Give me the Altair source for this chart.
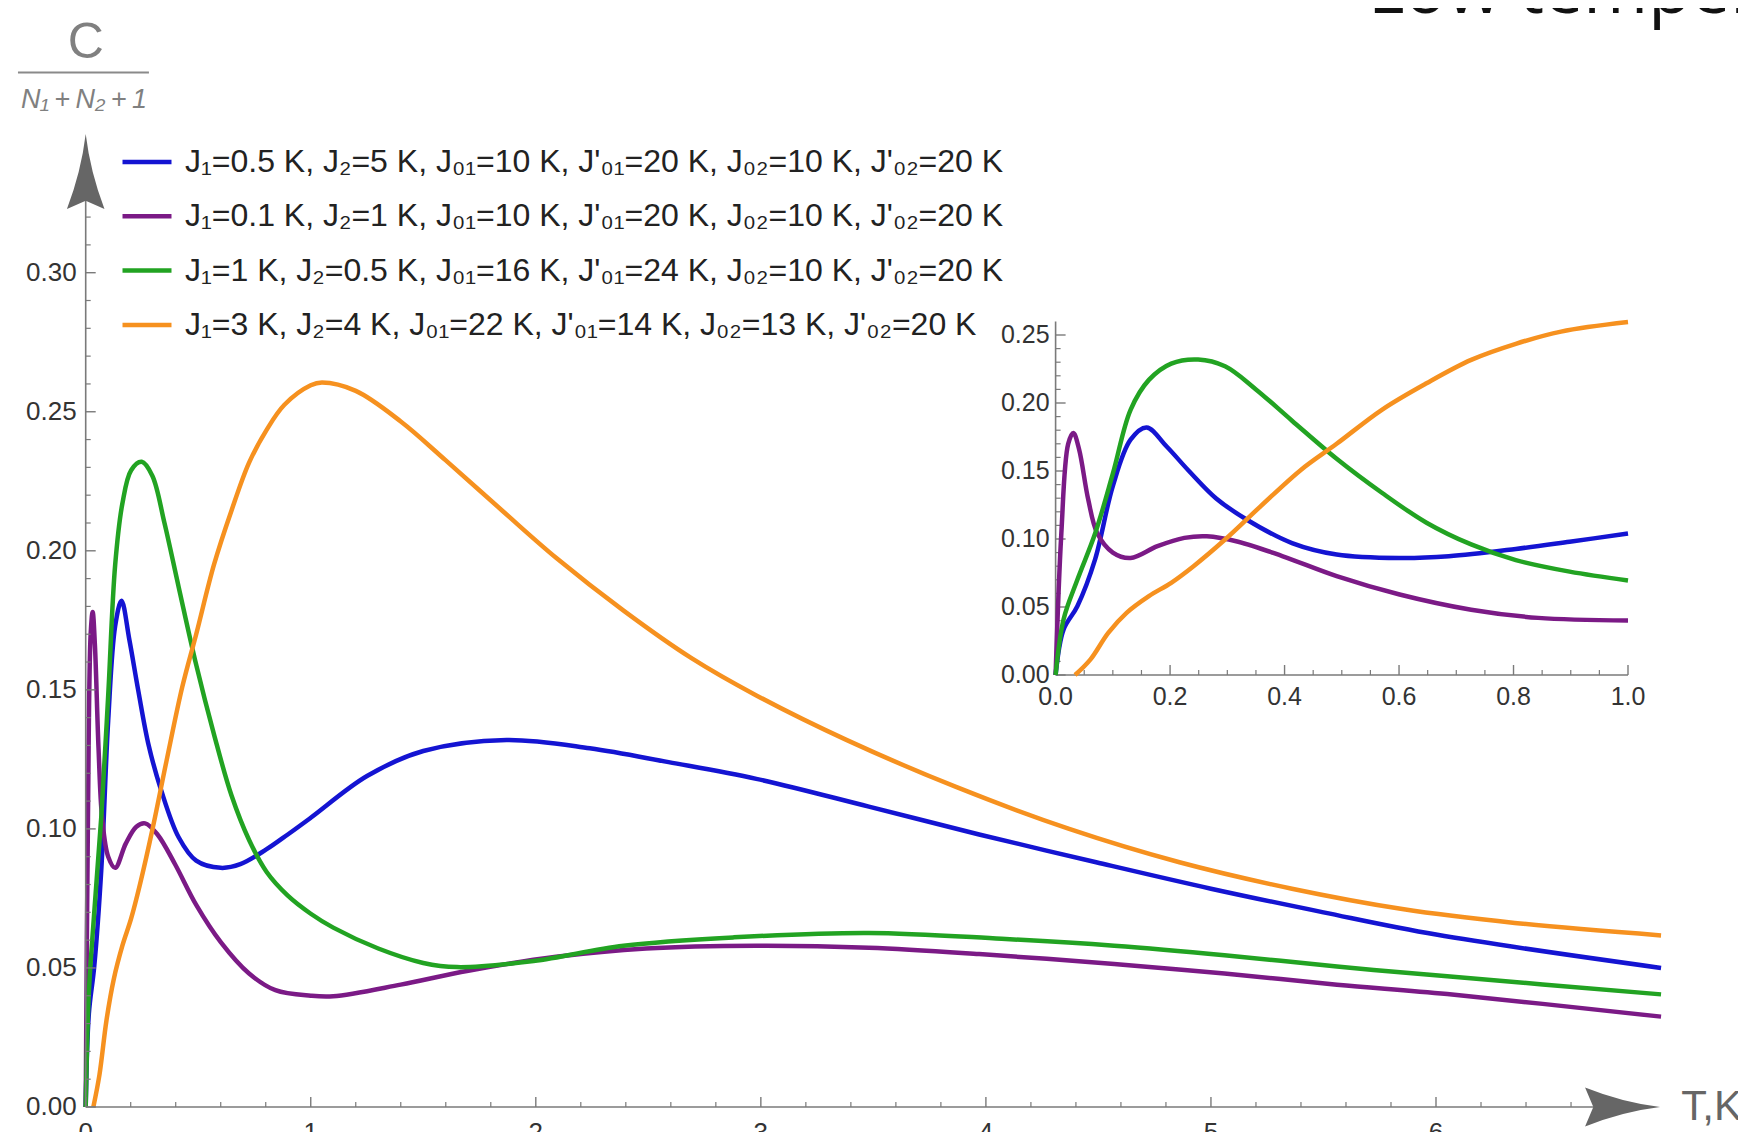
import altair as alt
import numpy as np
import pandas as pd

# ---------------- data ----------------
labels = [
    "J\u2081=0.5 K, J\u2082=5 K, J\u2080\u2081=10 K, J'\u2080\u2081=20 K, J\u2080\u2082=10 K, J'\u2080\u2082=20 K",
    "J\u2081=0.1 K, J\u2082=1 K, J\u2080\u2081=10 K, J'\u2080\u2081=20 K, J\u2080\u2082=10 K, J'\u2080\u2082=20 K",
    "J\u2081=1 K, J\u2082=0.5 K, J\u2080\u2081=16 K, J'\u2080\u2081=24 K, J\u2080\u2082=10 K, J'\u2080\u2082=20 K",
    "J\u2081=3 K, J\u2082=4 K, J\u2080\u2081=22 K, J'\u2080\u2081=14 K, J\u2080\u2082=13 K, J'\u2080\u2082=20 K",
]
colors = ["#1414d2", "#7b1a86", "#22a322", "#f6911f"]

blue_T = [0, 0.014, 0.038, 0.069, 0.10, 0.131, 0.159, 0.194, 0.233, 0.28, 0.335, 0.413, 0.491,
          0.60, 0.687, 0.804, 0.898, 1.0, 1.25, 1.5, 1.87, 2.24, 2.59, 2.98, 3.48, 3.97, 4.49,
          5.0, 5.5, 6.0, 7.0]
blue_C = [0, 0.0335, 0.0506, 0.085, 0.139, 0.173, 0.182, 0.168, 0.150, 0.130, 0.114, 0.097, 0.0886,
          0.086, 0.0873, 0.0927, 0.098, 0.104, 0.119, 0.128, 0.132, 0.129, 0.124, 0.118, 0.108, 0.098, 0.088,
          0.0785, 0.070, 0.062, 0.050]

purple_T = [0, 0.010, 0.022, 0.031, 0.041, 0.057, 0.073, 0.10, 0.131, 0.178, 0.225, 0.264, 0.319,
            0.397, 0.491, 0.601, 0.726, 0.843, 1.0, 1.1, 1.4, 1.7, 2.09, 2.49, 2.98, 3.48, 3.97,
            4.57, 5.06, 5.56, 6.05, 7.0]
purple_C = [0, 0.104, 0.170, 0.178, 0.166, 0.129, 0.104, 0.090, 0.086, 0.0947, 0.1008, 0.102, 0.098,
            0.0873, 0.0727, 0.0592, 0.048, 0.042, 0.040, 0.0398, 0.044, 0.049, 0.054, 0.057, 0.058, 0.0573, 0.055,
            0.0514, 0.048, 0.044, 0.0406, 0.0325]

green_T = [0, 0.014, 0.038, 0.069, 0.10, 0.131, 0.163, 0.202, 0.249, 0.296, 0.35, 0.413, 0.491, 0.57,
           0.648, 0.726, 0.804, 0.898, 1.0, 1.1, 1.3, 1.5, 1.65, 1.99, 2.39, 2.88, 3.48, 4.07, 4.57,
           5.06, 5.56, 6.05, 7.0]
green_C = [0, 0.041, 0.070, 0.104, 0.148, 0.195, 0.217, 0.229, 0.232, 0.227, 0.21, 0.187, 0.159, 0.134,
           0.112, 0.096, 0.0845, 0.076, 0.0695, 0.0645, 0.057, 0.0518, 0.0503, 0.0525, 0.058, 0.061, 0.0626, 0.0605,
           0.058, 0.0546, 0.0505, 0.047, 0.0405]

orange_T = [0.034, 0.061, 0.092, 0.124, 0.163, 0.202, 0.241, 0.296, 0.358, 0.429, 0.491, 0.57, 0.648,
            0.726, 0.804, 0.883, 1.0, 1.05, 1.2, 1.4, 1.6, 1.85, 2.09, 2.39, 2.69, 2.98, 3.38, 3.87,
            4.37, 4.86, 5.36, 5.85, 6.35, 7.0]
orange_C = [0, 0.0115, 0.031, 0.0457, 0.058, 0.0678, 0.080, 0.0996, 0.124, 0.151, 0.170, 0.195, 0.2145,
            0.2317, 0.2435, 0.2525, 0.2595, 0.2605, 0.2575, 0.2465, 0.2325, 0.2145, 0.1975, 0.1785, 0.1615, 0.148,
            0.132, 0.115, 0.100, 0.088, 0.0785, 0.0712, 0.0662, 0.0617]

# tick values / labels
main_x_major = [0, 1, 2, 3, 4, 5, 6]
main_x_minor = [round(v, 1) for v in np.arange(0.2, 6.7, 0.2) if abs(v - round(v)) > 1e-6]
main_y_major = [0.0, 0.05, 0.10, 0.15, 0.20, 0.25, 0.30]
main_y_minor = [round(v, 2) for v in np.arange(0.01, 0.325, 0.01) if round(v * 100) % 5 != 0]
in_x_major = [0.0, 0.2, 0.4, 0.6, 0.8, 1.0]
in_x_minor = [round(v, 2) for v in np.arange(0.05, 1.0, 0.05) if round(v * 100) % 20 != 0]
in_y_major = [0.0, 0.05, 0.10, 0.15, 0.20, 0.25]
in_y_minor = [round(v, 2) for v in np.arange(0.01, 0.26, 0.01) if round(v * 100) % 5 != 0]

# ---------------- build tables ----------------
frames = []
for lab, T, C in zip(labels, [blue_T, purple_T, green_T, orange_T], [blue_C, purple_C, green_C, orange_C]):
    frames.append(pd.DataFrame({"T": T, "C": C, "series": lab}))
df = pd.concat(frames, ignore_index=True)
one = pd.DataFrame({"k": [0]})

FONT = "Liberation Sans"
AX = "#7a7a7a"
LAB = "#333333"
INTERP = "catmull-rom"

xs = alt.Scale(domain=[0, 7], range=[77.7, 1653.05], nice=False, zero=False)
ys = alt.Scale(domain=[0, 0.3], range=[1099, 264.7], nice=False, zero=False)
ixs = alt.Scale(domain=[0, 1], range=[1047.6, 1620], nice=False, zero=False)
iys = alt.Scale(domain=[0, 0.25], range=[667, 327], nice=False, zero=False)

color = alt.Color(
    "series:N",
    scale=alt.Scale(domain=labels, range=colors),
    sort=labels,
    legend=alt.Legend(
        orient="none", legendX=112, legendY=127, direction="vertical", title=None,
        symbolType="stroke", symbolSize=2400, symbolStrokeWidth=4.5, symbolOpacity=1,
        labelFont=FONT, labelFontSize=32, labelColor="#222222", labelLimit=2000,
        labelOffset=11, rowPadding=11.3, padding=0,
    ),
)


def xd(v, s):
    return alt.XDatum(v, type="quantitative", scale=s, axis=None)


def yd(v, s):
    return alt.YDatum(v, type="quantitative", scale=s, axis=None)


def tick_layers(xscale, yscale, xmaj, xmin, ymaj, ymin, xend, yend, xfmt, yfmt, fs, xdy, ydx):
    out = []
    # axis lines
    out.append(alt.Chart(one).mark_rule(color=AX, strokeWidth=1.6).encode(
        x=xd(0, xscale), x2=alt.X2Datum(xend), y=yd(0, yscale)))
    out.append(alt.Chart(one).mark_rule(color=AX, strokeWidth=1.6).encode(
        x=xd(0, xscale), y=yd(0, yscale), y2=alt.Y2Datum(yend)))
    # x ticks
    out.append(alt.Chart(pd.DataFrame({"v": xmaj})).mark_tick(
        orient="vertical", size=10, thickness=1.4, yOffset=-5, color=AX, opacity=1).encode(
        x=alt.X("v:Q", scale=xscale, axis=None), y=yd(0, yscale)))
    out.append(alt.Chart(pd.DataFrame({"v": xmin})).mark_tick(
        orient="vertical", size=5, thickness=1.2, yOffset=-2.5, color=AX, opacity=1).encode(
        x=alt.X("v:Q", scale=xscale, axis=None), y=yd(0, yscale)))
    # y ticks
    out.append(alt.Chart(pd.DataFrame({"v": ymaj})).mark_tick(
        orient="horizontal", size=10, thickness=1.4, xOffset=5, color=AX, opacity=1).encode(
        y=alt.Y("v:Q", scale=yscale, axis=None), x=xd(0, xscale)))
    out.append(alt.Chart(pd.DataFrame({"v": ymin})).mark_tick(
        orient="horizontal", size=5, thickness=1.2, xOffset=2.5, color=AX, opacity=1).encode(
        y=alt.Y("v:Q", scale=yscale, axis=None), x=xd(0, xscale)))
    # labels
    out.append(alt.Chart(pd.DataFrame({"v": xmaj})).mark_text(
        align="center", baseline="top", dy=xdy, font=FONT, fontSize=fs, color=LAB).encode(
        x=alt.X("v:Q", scale=xscale, axis=None), y=yd(0, yscale),
        text=alt.Text("v:Q", format=xfmt)))
    out.append(alt.Chart(pd.DataFrame({"v": ymaj})).mark_text(
        align="right", baseline="middle", dx=ydx, font=FONT, fontSize=fs, color=LAB).encode(
        y=alt.Y("v:Q", scale=yscale, axis=None), x=xd(0, xscale),
        text=alt.Text("v:Q", format=yfmt)))
    return out


# ---------------- main panel ----------------
main_lines = alt.Chart(df).mark_line(strokeWidth=4.5, interpolate=INTERP).encode(
    x=alt.X("T:Q", scale=xs, axis=None),
    y=alt.Y("C:Q", scale=ys, axis=None),
    color=color,
    order=alt.Order("T:Q"),
)

main_ticks = tick_layers(xs, ys, main_x_major, main_x_minor, main_y_major, main_y_minor,
                         6.75, 0.33, "d", ".2f", 26, 13, -9)

up_arrow = "M0,-1 Q0.12,0 0.5,1 L0,0.78 L-0.5,1 Q-0.12,0 0,-1 Z"
right_arrow = "M1,0 Q0,0.12 -1,0.52 L-0.78,0 L-1,-0.52 Q0,-0.12 1,0 Z"
arrows = [
    alt.Chart(one).mark_point(shape=up_arrow, size=5625, filled=True, color="#666666",
                              opacity=1, strokeWidth=0).encode(x=xd(0, xs), y=yd(0.3364, ys)),
    alt.Chart(one).mark_point(shape=right_arrow, size=5625, filled=True, color="#666666",
                              opacity=1, strokeWidth=0).encode(x=xd(6.829, xs), y=yd(0, ys)),
]

annot = [
    alt.Chart(one).mark_text(text="T,K", align="left", baseline="middle", font=FONT,
                             fontSize=42, color="#666666").encode(x=xd(7.09, xs), y=yd(0, ys)),
    alt.Chart(one).mark_text(text="C", align="center", baseline="alphabetic", font=FONT,
                             fontSize=50, color="#808080").encode(x=xd(0.0, xs), y=yd(0.3772, ys)),
    alt.Chart(one).mark_rule(color="#8a8a8a", strokeWidth=2).encode(
        x=xd(-0.301, xs), x2=alt.X2Datum(0.281), y=yd(0.3720, ys)),
    alt.Chart(one).mark_text(text="N\u2081\u2009+\u2009N\u2082\u2009+\u20091", align="center",
                             baseline="alphabetic", font=FONT, fontSize=27, fontStyle="italic",
                             color="#808080").encode(
        x=xd(-0.008, xs), y=yd(0.3592, ys)),
    alt.Chart(one).mark_text(text="Low temperature", align="left", baseline="alphabetic",
                             font="Open Sans", fontSize=70, color="#111111").encode(
        x=xd(5.698, xs), y=yd(0.3934, ys)),
]

main = alt.layer(main_lines, *main_ticks, *arrows, *annot)

# ---------------- inset ----------------
inset_lines = alt.Chart(df).transform_filter("datum.T <= 1.0001").mark_line(
    strokeWidth=4.5, interpolate=INTERP).encode(
    x=alt.X("T:Q", scale=ixs, axis=None),
    y=alt.Y("C:Q", scale=iys, axis=None),
    color=color,
    order=alt.Order("T:Q"),
)
inset_ticks = tick_layers(ixs, iys, in_x_major, in_x_minor, in_y_major, in_y_minor,
                          1.0, 0.26, ".1f", ".2f", 25, 10, -6)
inset = alt.layer(*inset_ticks, inset_lines)

chart = alt.layer(main, inset).resolve_scale(x="independent", y="independent").properties(
    width=1730, height=1124, autosize="none", padding=0, background="white"
).configure_view(stroke=None)

chart.save("out.html", embed_options={"renderer": "svg", "actions": False})
